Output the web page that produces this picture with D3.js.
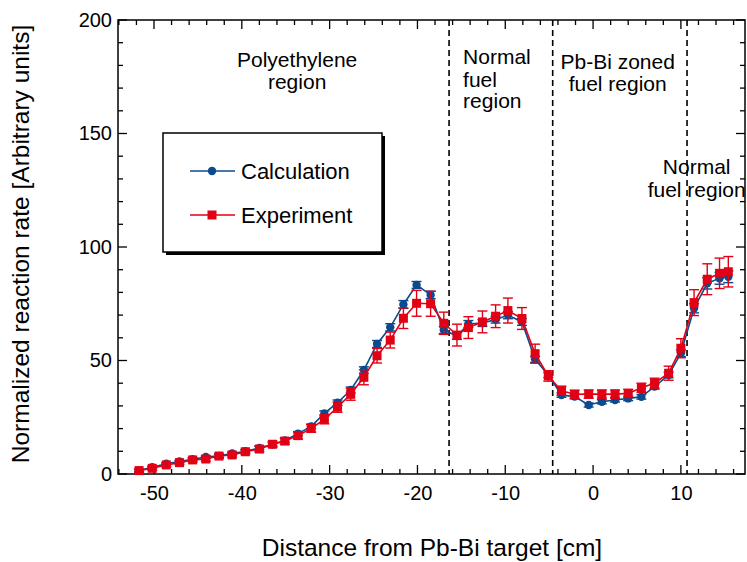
<!DOCTYPE html>
<html><head><meta charset="utf-8">
<script src="https://cdn.jsdelivr.net/npm/d3@7"></script>
<style>body{margin:0;background:#fff;} svg{display:block;font-family:"Liberation Sans",Arial,sans-serif;}</style>
</head><body>
<script>
const positions = [-51.7,-50.2,-48.6,-47.1,-45.6,-44.1,-42.6,-41.1,-39.6,-38.0,-36.5,-35.1,-33.6,-32.1,-30.6,-29.1,-27.6,-26.1,-24.6,-23.1,-21.6,-20.1,-18.5,-17.0,-15.5,-14.2,-12.6,-11.1,-9.7,-8.1,-6.6,-5.1,-3.6,-2.1,-0.5,1.0,2.5,4.0,5.5,7.0,8.6,10.0,11.5,13.0,14.4,15.4];
const calculation = [1.5,3.0,4.5,5.5,6.5,7.5,8.0,9.0,10.0,11.5,13.0,14.8,17.8,21.0,26.7,31.4,37.0,45.8,57.3,64.6,74.7,83.3,78.9,63.4,60.8,66.1,66.5,68.0,70.0,67.0,50.5,43.6,34.8,34.1,30.4,31.8,32.6,33.3,34.0,38.5,43.6,53.2,73.0,84.0,86.2,86.9];
const calcErr = [0.4,0.4,0.5,0.5,0.5,0.5,0.6,0.6,0.6,0.7,0.7,0.8,0.9,1.0,1.1,1.2,1.3,1.4,1.5,1.6,1.7,1.5,1.6,1.5,1.5,1.5,1.5,1.5,1.6,1.5,1.3,1.1,1.0,1.0,0.9,0.9,0.9,1.0,1.0,1.1,1.2,1.5,2.0,2.5,2.6,2.6];
const experiment = [1.5,2.5,4.0,5.0,6.2,6.6,7.9,8.4,9.8,11.0,13.1,14.5,16.9,20.1,24.1,29.4,35.1,42.6,52.1,59.0,68.6,75.2,75.0,66.4,61.2,64.5,67.0,69.5,72.0,68.5,53.0,43.2,36.7,35.1,35.2,35.2,35.2,35.5,38.0,40.0,44.4,55.4,75.5,85.8,88.4,89.1];
const expErr = [0.8,0.8,0.8,0.8,0.9,0.9,1.0,1.0,1.0,1.2,1.3,1.4,1.5,1.7,2.0,2.2,2.6,3.3,3.2,3.5,4.5,5.7,5.5,4.9,4.8,4.8,4.8,5.0,5.5,4.8,4.2,2.3,2.0,1.8,1.8,1.8,1.8,1.8,2.0,2.2,3.1,4.2,5.7,6.8,6.7,6.7];
const boundaries = [-16.4,-4.6,10.7];
const xTickLabels = [-50,-40,-30,-20,-10,0,10];
const yTickLabels = [0,50,100,150,200];
const regionLabels = [
  {lines:["Polyethylene","region"], x:-33.7, y:[67,89], anchor:"middle"},
  {lines:["Normal","fuel","region"], x:-14.8, y:[64,87,108], anchor:"start"},
  {lines:["Pb-Bi zoned","fuel region"], x:2.8, y:[69,91], anchor:"middle"},
  {lines:["Normal","fuel region"], x:11.8, y:[174,197], anchor:"middle"}
];
const seriesNames = ["Calculation","Experiment"];
const colors = {calc:"#0b4a8c", exp:"#e10014"};

const W=747,H=562;
const svg = d3.select("body").append("svg").attr("width",W).attr("height",H);
const x = d3.scaleLinear().domain([-54.1,17.3]).range([118,745]);
const y = d3.scaleLinear().domain([0,200]).range([474,20]);

// dashed boundaries
svg.selectAll("line.bnd").data(boundaries).enter().append("line")
  .attr("x1",d=>x(d)).attr("x2",d=>x(d)).attr("y1",y(200)).attr("y2",y(0))
  .attr("stroke","#000").attr("stroke-width",1.6).attr("stroke-dasharray","6,4");

// ticks
const minorX = d3.range(-54,17.01,2);
const minorY = d3.range(0,201,10);
const tg = svg.append("g").attr("stroke","#000").attr("stroke-width",1.3);
minorX.forEach(v=>{
  const L = (v%10===0)?9:5;
  tg.append("line").attr("x1",x(v)).attr("x2",x(v)).attr("y1",y(0)).attr("y2",y(0)-L);
  tg.append("line").attr("x1",x(v)).attr("x2",x(v)).attr("y1",y(200)).attr("y2",y(200)+L);
});
minorY.forEach(v=>{
  const L = (v%50===0)?9:5;
  tg.append("line").attr("x1",118).attr("x2",118+L).attr("y1",y(v)).attr("y2",y(v));
  tg.append("line").attr("x1",745).attr("x2",745-L).attr("y1",y(v)).attr("y2",y(v));
});

// axes with labels
const xAxis = d3.axisBottom(x).tickValues(xTickLabels).tickSize(0).tickPadding(12).tickFormat(d=>String(d));
const gx = svg.append("g").attr("transform",`translate(0,${y(0)})`).call(xAxis);
gx.select(".domain").remove();
gx.selectAll("text").attr("font-size",20).attr("fill","#000").attr("font-family","Liberation Sans, Arial, sans-serif");
const yAxis = d3.axisLeft(y).tickValues(yTickLabels).tickSize(0).tickPadding(6).tickFormat(d=>String(d));
const gy = svg.append("g").attr("transform",`translate(118,0)`).call(yAxis);
gy.select(".domain").remove();
gy.selectAll("text").attr("font-size",20).attr("fill","#000").attr("font-family","Liberation Sans, Arial, sans-serif");

// frame
svg.append("rect").attr("x",118).attr("y",y(200)).attr("width",745-118).attr("height",y(0)-y(200))
  .attr("fill","none").attr("stroke","#000").attr("stroke-width",1.5);

// region labels
regionLabels.forEach(r=>{
  r.lines.forEach((t,i)=>{
    svg.append("text").attr("x",x(r.x)).attr("y",r.y[i]).attr("text-anchor",r.anchor)
      .attr("font-size",21).attr("fill","#000").text(t);
  });
});

// series
function drawSeries(vals, errs, color, marker){
  const g = svg.append("g");
  const pts = positions.map((p,i)=>({p, v:vals[i], e:errs[i]}));
  g.append("path").datum(pts).attr("fill","none").attr("stroke",color).attr("stroke-width",1.6)
    .attr("d", d3.line().x(d=>x(d.p)).y(d=>y(d.v)));
  const eb = g.selectAll("g.eb").data(pts).enter().append("g").attr("stroke",color).attr("stroke-width",1.4);
  eb.append("line").attr("x1",d=>x(d.p)).attr("x2",d=>x(d.p)).attr("y1",d=>y(d.v-d.e)).attr("y2",d=>y(d.v+d.e));
  eb.append("line").attr("x1",d=>x(d.p)-5).attr("x2",d=>x(d.p)+5).attr("y1",d=>y(d.v-d.e)).attr("y2",d=>y(d.v-d.e));
  eb.append("line").attr("x1",d=>x(d.p)-5).attr("x2",d=>x(d.p)+5).attr("y1",d=>y(d.v+d.e)).attr("y2",d=>y(d.v+d.e));
  if(marker==="circle"){
    g.selectAll("circle").data(pts).enter().append("circle").attr("cx",d=>x(d.p)).attr("cy",d=>y(d.v)).attr("r",4.2).attr("fill",color);
  } else {
    g.selectAll("rect").data(pts).enter().append("rect").attr("x",d=>x(d.p)-4.5).attr("y",d=>y(d.v)-4.5).attr("width",9).attr("height",9).attr("fill",color);
  }
}
drawSeries(calculation, calcErr, colors.calc, "circle");
drawSeries(experiment, expErr, colors.exp, "square");

// legend
const lg = svg.append("g");
lg.append("rect").attr("x",166).attr("y",136).attr("width",219).attr("height",119).attr("fill","#000");
lg.append("rect").attr("x",163).attr("y",133).attr("width",219).attr("height",119).attr("fill","#fff").attr("stroke","#000").attr("stroke-width",1.5);
const items = [{name:seriesNames[0],color:colors.calc,m:"circle",yy:171},{name:seriesNames[1],color:colors.exp,m:"square",yy:215}];
items.forEach(it=>{
  lg.append("line").attr("x1",190).attr("x2",235).attr("y1",it.yy).attr("y2",it.yy).attr("stroke",it.color).attr("stroke-width",1.6);
  if(it.m==="circle") lg.append("circle").attr("cx",212).attr("cy",it.yy).attr("r",4.2).attr("fill",it.color);
  else lg.append("rect").attr("x",207.5).attr("y",it.yy-4.5).attr("width",9).attr("height",9).attr("fill",it.color);
  lg.append("text").attr("x",241).attr("y",it.yy+7.5).attr("font-size",22).attr("fill","#000").text(it.name);
});

// axis titles
svg.append("text").attr("x",432).attr("y",556).attr("text-anchor","middle").attr("font-size",24.5).attr("fill","#000")
  .text("Distance from Pb-Bi target [cm]");
svg.append("text").attr("transform","translate(29,244) rotate(-90)").attr("text-anchor","middle").attr("font-size",24.5).attr("fill","#000")
  .text("Normalized reaction rate [Arbitrary units]");
</script>
</body></html>
